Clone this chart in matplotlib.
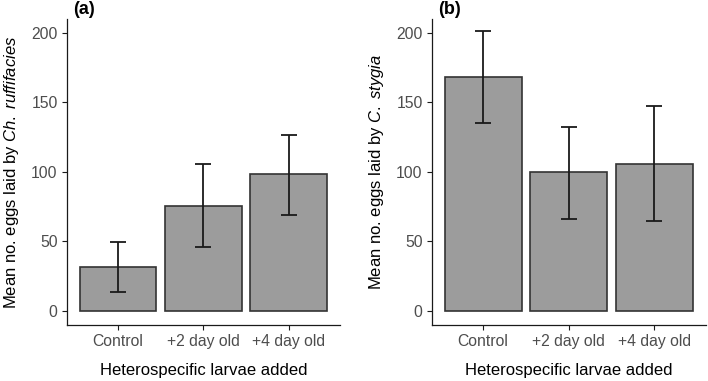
import matplotlib
matplotlib.use("Agg")
import matplotlib.pyplot as plt
import numpy as np

plt.rcParams['font.family'] = ['Liberation Sans', 'DejaVu Sans']
plt.rcParams['mathtext.fontset'] = 'custom'
plt.rcParams['mathtext.rm'] = 'Liberation Sans'
plt.rcParams['mathtext.it'] = 'Liberation Sans:italic'

categories = ["Control", "+2 day old", "+4 day old"]
means_a = [31.7, 75.5, 98.3]
upper_a = [49.2, 105.5, 126.4]
lower_a = [13.7, 45.8, 69.3]
means_b = [168.3, 99.6, 105.8]
upper_b = [201.2, 132.7, 147.3]
lower_b = [135.3, 66.2, 64.5]
yticks = [0, 50, 100, 150, 200]
ylabels = [r"Mean no. eggs laid by $\it{Ch.\ ruffifacies}$",
           r"Mean no. eggs laid by $\it{C.\ stygia}$"]
xlabel = "Heterospecific larvae added"
tags = ["(a)", "(b)"]

fig = plt.figure(figsize=(7.08, 3.81), dpi=100)
H = 381.0
W = 708.0
boxes = [(66.7, 340.0), (431.7, 705.7)]
top_px, bot_px = 18.8, 325.0

panels = [(means_a, upper_a, lower_a), (means_b, upper_b, lower_b)]
for i, ((l, r), (m, up, lo)) in enumerate(zip(boxes, panels)):
    ax = fig.add_axes([l / W, 1 - bot_px / H, (r - l) / W, (bot_px - top_px) / H])
    x = np.arange(1, len(categories) + 1)
    ax.bar(x, m, width=0.9, color="#9c9c9c", edgecolor="#333333", linewidth=1.2, zorder=2)
    m = np.array(m); up = np.array(up); lo = np.array(lo)
    ax.errorbar(x, m, yerr=[m - lo, up - m], fmt="none", ecolor="#1a1a1a",
                elinewidth=1.3, capsize=5.7, capthick=1.3, zorder=3)
    ax.set_xlim(0.4, 3.6)
    ax.set_ylim(-10.3, 210.3)
    ax.set_yticks(yticks)
    ax.set_xticks(x)
    ax.set_xticklabels(categories)
    ax.tick_params(axis="both", labelsize=11.3, colors="#1a1a1a", labelcolor="#4d4d4d",
                   length=3.5, width=0.8, direction="out", pad=3)
    for s in ["top", "right"]:
        ax.spines[s].set_visible(False)
    for s in ["left", "bottom"]:
        ax.spines[s].set_linewidth(0.9)
        ax.spines[s].set_color("#1a1a1a")
    ax.set_ylabel(ylabels[i], fontsize=12, color="black", labelpad=7)
    ax.set_xlabel(xlabel, fontsize=12, color="black", labelpad=10)
    fig.text((l + 6) / W, 1 - 1.5 / H, tags[i], fontsize=13, fontweight="bold",
             ha="left", va="top")

fig.savefig("out.png", dpi=100)
